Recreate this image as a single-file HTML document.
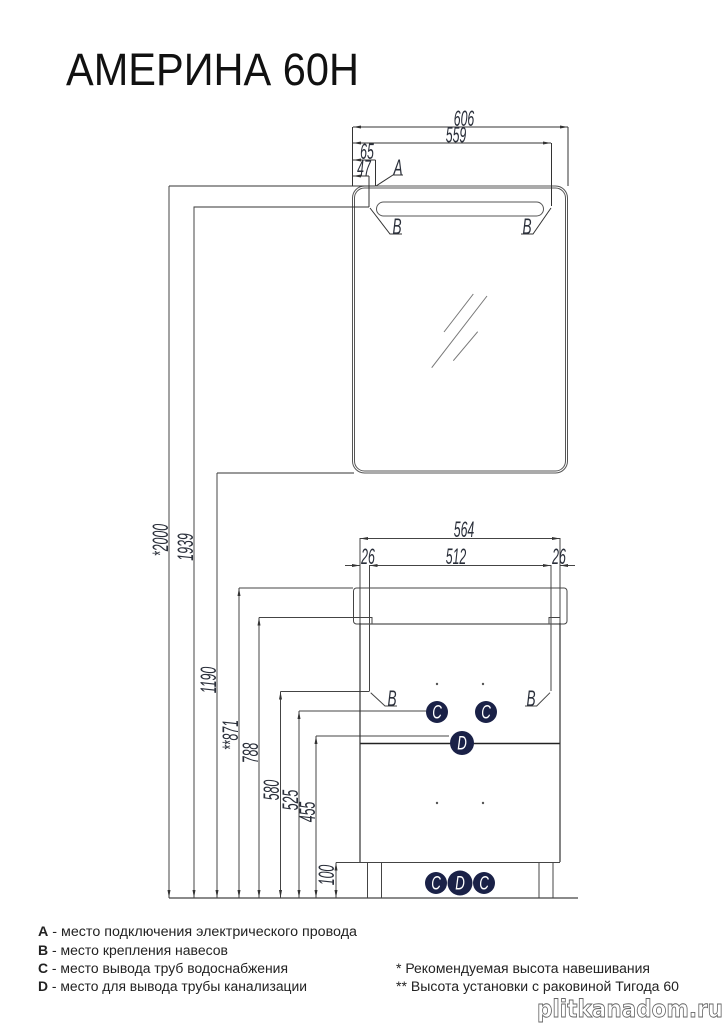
<!DOCTYPE html>
<html lang="ru"><head><meta charset="utf-8"><title>Америна 60Н</title>
<style>
html,body{margin:0;padding:0;background:#fff}
svg{display:block}
text{font-family:"Liberation Sans","DejaVu Sans",sans-serif}
.d{font-size:22px;font-style:italic;fill:#2a2f3a}
.l{font-size:13.5px;fill:#222}
</style></head><body>
<svg xmlns="http://www.w3.org/2000/svg" width="723" height="1024" viewBox="0 0 723 1024">
<rect width="723" height="1024" fill="#fff"/>
<text x="66" y="85" font-size="45" fill="#111" textLength="293" lengthAdjust="spacingAndGlyphs">АМЕРИНА 60Н</text>

<!-- mirror -->
<g fill="none" stroke="#555" stroke-width="1">
<rect x="352.500" y="186" width="215" height="287" rx="12"/>
<rect x="354.500" y="188" width="211" height="283" rx="10"/>
<rect x="376.500" y="202" width="167" height="14" rx="7"/>
</g>
<path d="M444 332L473.300 294M431.700 367.700L487 296M453.300 360.700L477.700 331.700" fill="none" stroke="#777" stroke-width="1"/>

<!-- top dimensions -->
<g fill="none" stroke="#333" stroke-width="1">
<path d="M352.500 127V186M568 127V186M551.500 143V206M375.500 160V186M369 176V207"/>
<path d="M353 127H568M353 143H551M353 160H375.500M353 176H369"/>
<path d="M169 186H375M193.500 207H369M217 473H354"/>
<path d="M376 186L393 175H403M370 208L390 234H402M551 208L533 234H521"/>
</g>
<g fill="#333">
<path d="M353 127l8-1.500v3zM568 127l-8-1.500v3zM353 143l8-1.500v3zM551 143l-8-1.500v3zM353 160l8-1.500v3zM353 176l8-1.500v3z"/>
</g>

<!-- vertical dimensions -->
<g fill="none" stroke="#444" stroke-width="1">
<path d="M169 186V898M194 207V898M217 473V898M239 588V898M259 617.500V898M280.500 691.500V898M299 711V898M316 736V898M336 862.500V898"/>
<path d="M239 588H353M259 617.500H360M280.500 691.500H369.500M299 711H426M316 736H449M336 862.500H360"/>
</g>
<g fill="#333">
<path d="M239 588l-1.500 8h3zM259 617.500l-1.500 8h3zM280.500 691.500l-1.500 8h3zM299 711l-1.500 8h3zM316 736l-1.500 8h3zM336 862.500l-1.500 8h3z"/>
<path d="M169 898l-1.500-8h3zM194 898l-1.500-8h3zM217 898l-1.500-8h3zM239 898l-1.500-8h3zM259 898l-1.500-8h3zM280.500 898l-1.500-8h3zM299 898l-1.500-8h3zM316 898l-1.500-8h3zM336 898l-1.500-8h3z"/>
</g>
<path d="M169 898H578" stroke="#444" stroke-width="1.200"/>

<!-- basin + cabinet -->
<g fill="none" stroke="#444" stroke-width="1">
<rect x="353.500" y="588" width="213.500" height="36" rx="3"/>
<path d="M360 538V623M560 538V623M369.500 565V691M551 565V691"/>
<path d="M360 538.500H560M345 565.500H360M369.500 565.500H551M560 565.500H575"/>
<path d="M360 617.500H372V624M549 624V617.500H560"/>
<path d="M360 862.500H560"/>
<path d="M367.500 862V898M381.500 862V898M539 862V898M553 862V898"/>
<path d="M370.700 692.700L385 706H397M550 692.700L536.700 706H525"/>
</g>
<path d="M360 743.500H560" stroke="#222" stroke-width="1.500"/>
<path d="M360 624H560" stroke="#555" stroke-width="1.200"/>
<path d="M360 623V862M560 623V862" stroke="#333" stroke-width="1.200"/>
<g fill="#333">
<path d="M360 538.500l8-1.500v3zM560 538.500l-8-1.500v3zM360 565.500l-8-1.500v3zM369.500 565.500l8-1.500v3zM551 565.500l-8-1.500v3zM560 565.500l8-1.500v3z"/>
</g>
<g fill="#555">
<circle cx="437" cy="684" r="1.200"/><circle cx="483" cy="684" r="1.200"/>
<circle cx="437" cy="803" r="1.200"/><circle cx="483" cy="803" r="1.200"/>
</g>

<!-- circles -->
<g fill="#1a2147">
<circle cx="437" cy="712" r="11"/><circle cx="486" cy="712" r="11"/>
<circle cx="462" cy="743" r="12"/>
<circle cx="436" cy="883" r="11"/><circle cx="484" cy="883" r="11"/>
<circle cx="460" cy="883" r="12.500"/>
</g>
<g font-size="19" font-style="italic" fill="#fff" text-anchor="middle">
<text transform="translate(437 718.500) scale(.7 1)">C</text><text transform="translate(486 718.500) scale(.7 1)">C</text>
<text transform="translate(462 749.500) scale(.7 1)">D</text>
<text transform="translate(436 889.500) scale(.7 1)">C</text><text transform="translate(460 889.500) scale(.7 1)">D</text><text transform="translate(484 889.500) scale(.7 1)">C</text>
</g>

<!-- horizontal dim labels -->
<g class="d" text-anchor="middle">
<text transform="translate(464 126) scale(.56 1)">606</text>
<text transform="translate(456 142.500) scale(.56 1)">559</text>
<text transform="translate(367 159) scale(.56 1)">65</text>
<text transform="translate(364 175.500) scale(.56 1)">47</text>
<text transform="translate(398 175) scale(.62 1)">A</text>
<text transform="translate(397 234) scale(.62 1)">B</text>
<text transform="translate(527 234) scale(.62 1)">B</text>
<text transform="translate(464 537) scale(.56 1)">564</text>
<text transform="translate(456 564) scale(.56 1)">512</text>
<text transform="translate(368 564) scale(.56 1)">26</text>
<text transform="translate(559 564) scale(.56 1)">26</text>
<text transform="translate(392 706) scale(.62 1)">B</text>
<text transform="translate(531 706) scale(.62 1)">B</text>
</g>
<!-- rotated dim labels -->
<g class="d" text-anchor="middle">
<text transform="translate(168 540) rotate(-90) scale(.56 1)">*2000</text>
<text transform="translate(193 547) rotate(-90) scale(.56 1)">1939</text>
<text transform="translate(216 680) rotate(-90) scale(.56 1)">1190</text>
<text transform="translate(238 735) rotate(-90) scale(.56 1)">**871</text>
<text transform="translate(258 753) rotate(-90) scale(.56 1)">788</text>
<text transform="translate(279 790) rotate(-90) scale(.56 1)">580</text>
<text transform="translate(298 800) rotate(-90) scale(.56 1)">525</text>
<text transform="translate(315 812) rotate(-90) scale(.56 1)">455</text>
<text transform="translate(334 875) rotate(-90) scale(.56 1)">100</text>
</g>

<!-- legend -->
<g class="l">
<text x="38" y="936" textLength="319" lengthAdjust="spacingAndGlyphs"><tspan font-weight="bold">A</tspan> - место подключения электрического провода</text>
<text x="38" y="955" textLength="190" lengthAdjust="spacingAndGlyphs"><tspan font-weight="bold">B</tspan> - место крепления навесов</text>
<text x="38" y="973" textLength="250" lengthAdjust="spacingAndGlyphs"><tspan font-weight="bold">C</tspan> - место вывода труб водоснабжения</text>
<text x="38" y="991" textLength="269" lengthAdjust="spacingAndGlyphs"><tspan font-weight="bold">D</tspan> - место для вывода трубы канализации</text>
<text x="396" y="973" textLength="254" lengthAdjust="spacingAndGlyphs">* Рекомендуемая высота навешивания</text>
<text x="396" y="991" textLength="283" lengthAdjust="spacingAndGlyphs">** Высота установки с раковиной Тигода 60</text>
</g>

<!-- watermark -->
<text x="537" y="1017" font-size="24" font-weight="bold" textLength="186" lengthAdjust="spacingAndGlyphs" fill="#fff" stroke="#666" stroke-width=".9" style="font-family:'DejaVu Sans',sans-serif">plitkanadom.ru</text>
</svg>
</body></html>
